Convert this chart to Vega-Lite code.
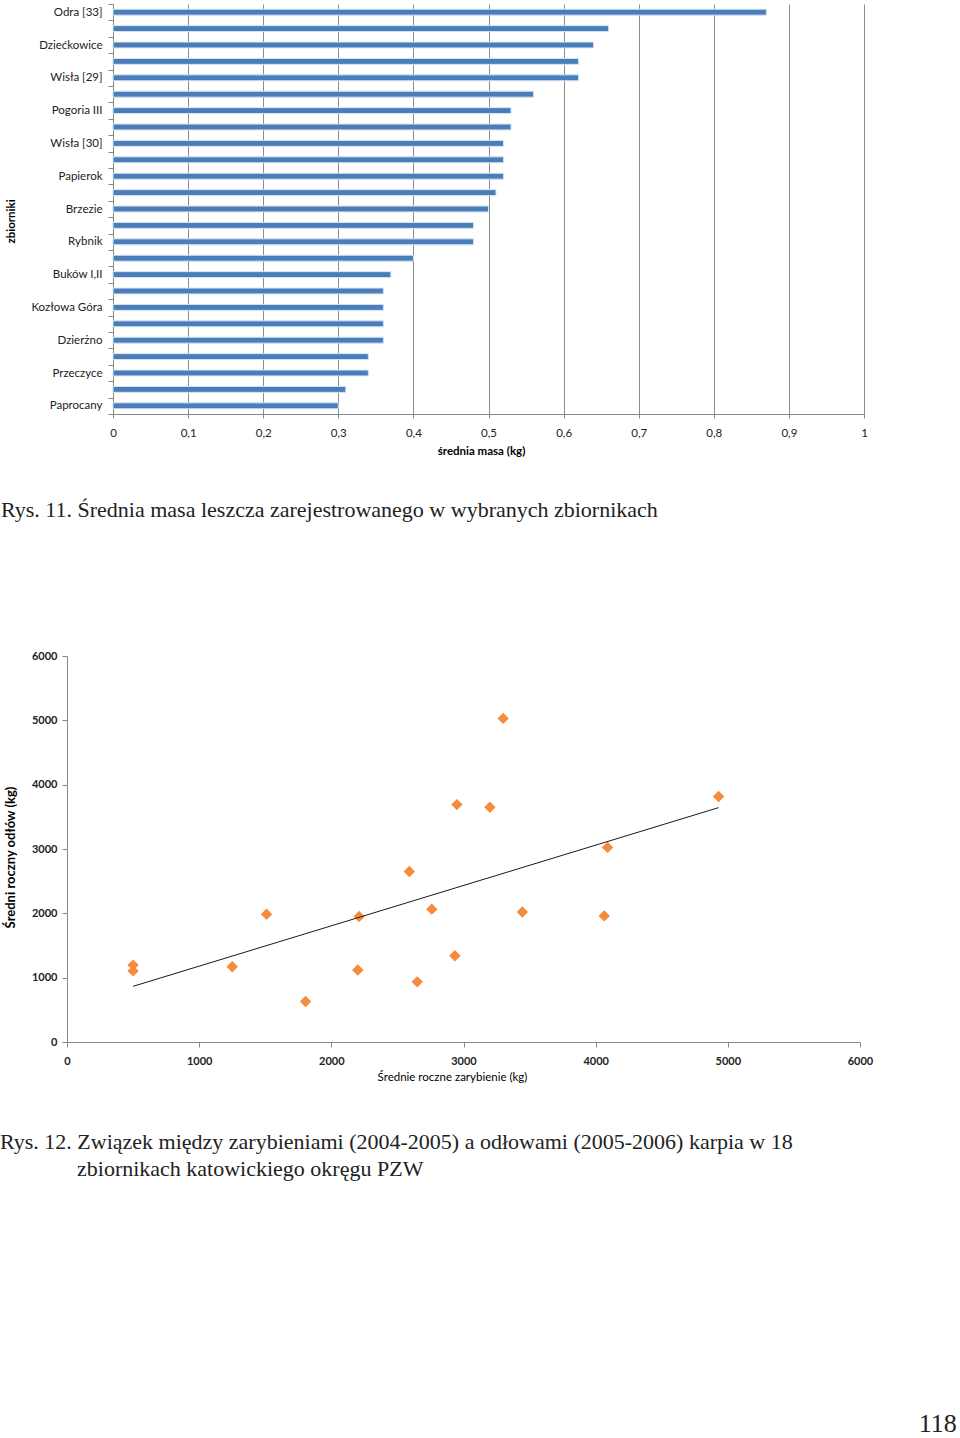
{
  "$schema": "https://vega.github.io/schema/vega-lite/v6.json",
  "background": "white",
  "padding": {"left": 0, "top": -2, "right": 0, "bottom": 0},
  "config": {"font": "Lato", "view": {"stroke": null}},
  "title": {"text": "118", "orient": "bottom", "anchor": "end", "font": "Liberation Serif", "fontSize": 26, "fontWeight": "normal", "color": "#222222", "offset": 231, "dx": 84},
  "spacing": 129,
  "vconcat": [
    {
      "width": 797,
      "height": 410,
      "title": {"text": "Rys. 11. Średnia masa leszcza zarejestrowanego w wybranych zbiornikach", "orient": "bottom", "anchor": "start", "font": "Liberation Serif", "fontSize": 22, "fontWeight": "normal", "color": "#222222", "offset": 43, "dx": -4},
      "data": {"values": [
        {"zbiornik": "Odra [33]", "masa": 0.87},
        {"zbiornik": "nr 2", "masa": 0.66},
        {"zbiornik": "Dziećkowice", "masa": 0.64},
        {"zbiornik": "nr 4", "masa": 0.62},
        {"zbiornik": "Wisła [29]", "masa": 0.62},
        {"zbiornik": "nr 6", "masa": 0.56},
        {"zbiornik": "Pogoria III", "masa": 0.53},
        {"zbiornik": "nr 8", "masa": 0.53},
        {"zbiornik": "Wisła [30]", "masa": 0.52},
        {"zbiornik": "nr 10", "masa": 0.52},
        {"zbiornik": "Papierok", "masa": 0.52},
        {"zbiornik": "nr 12", "masa": 0.51},
        {"zbiornik": "Brzezie", "masa": 0.50},
        {"zbiornik": "nr 14", "masa": 0.48},
        {"zbiornik": "Rybnik", "masa": 0.48},
        {"zbiornik": "nr 16", "masa": 0.40},
        {"zbiornik": "Buków I,II", "masa": 0.37},
        {"zbiornik": "nr 18", "masa": 0.36},
        {"zbiornik": "Kozłowa Góra", "masa": 0.36},
        {"zbiornik": "nr 20", "masa": 0.36},
        {"zbiornik": "Dzierżno", "masa": 0.36},
        {"zbiornik": "nr 22", "masa": 0.34},
        {"zbiornik": "Przeczyce", "masa": 0.34},
        {"zbiornik": "nr 24", "masa": 0.31},
        {"zbiornik": "Paprocany", "masa": 0.30}
      ]},
      "mark": {"type": "bar", "color": "#4A7EBB", "stroke": "#D6E2F0", "strokeWidth": 1, "height": {"band": 0.36}},
      "encoding": {
        "y": {
          "field": "zbiornik", "type": "nominal", "sort": null,
          "scale": {"paddingInner": 0, "paddingOuter": 0},
          "axis": {
            "offset": -46,
            "title": "zbiorniki", "titleFont": "Lato", "titleFontWeight": "bold", "titleFontSize": 11.5, "titleColor": "#000000", "titlePadding": 17, "titleY": 217,
            "minExtent": 80, "maxExtent": 80,
            "labelFontSize": 11.5, "labelColor": "#222222", "labelPadding": 6, "labelLimit": 0,
            "tickSize": 5, "tickBand": "extent", "tickColor": "#888888", "domainColor": "#888888",
            "labelExpr": "round(datum.index * 24) % 2 === 0 ? datum.label : ''",
            "grid": false
          }
        },
        "x": {
          "field": "masa", "type": "quantitative",
          "scale": {"domain": [0, 1], "nice": false, "range": [46, 797]},
          "axis": {
            "title": "średnia masa (kg)", "titleFont": "Lato", "titleFontWeight": "bold", "titleFontSize": 11.5, "titleColor": "#000000", "titlePadding": 7, "titleX": 414,
            "values": [0, 0.1, 0.2, 0.3, 0.4, 0.5, 0.6, 0.7, 0.8, 0.9, 1],
            "format": "~g", "labelExpr": "replace(datum.label, '.', ',')",
            "labelFontSize": 11.5, "labelColor": "#222222", "labelPadding": 9, "labelFlush": false,
            "tickSize": 4, "tickColor": "#888888", "domainColor": "#888888",
            "grid": true, "gridColor": "#8C8C8C", "gridOpacity": 1
          }
        }
      }
    },
    {
      "width": 793,
      "height": 386,
      "title": {"text": ["Rys. 12. Związek między zarybieniami (2004-2005) a odłowami (2005-2006) karpia w 18", "\u200b\u00a0\u00a0\u00a0\u00a0\u00a0\u00a0\u00a0\u00a0\u00a0\u00a0\u00a0\u00a0\u00a0\u00a0zbiornikach katowickiego okręgu PZW"], "orient": "bottom", "anchor": "start", "font": "Liberation Serif", "fontSize": 22, "fontWeight": "normal", "color": "#222222", "offset": 49, "dx": -4, "lineHeight": 27},
      "data": {"values": [
        {"zarybienie": 500, "odlow": 1195},
        {"zarybienie": 500, "odlow": 1105},
        {"zarybienie": 1250, "odlow": 1170},
        {"zarybienie": 1510, "odlow": 1985},
        {"zarybienie": 1805, "odlow": 630},
        {"zarybienie": 2200, "odlow": 1120},
        {"zarybienie": 2210, "odlow": 1950},
        {"zarybienie": 2590, "odlow": 2650},
        {"zarybienie": 2650, "odlow": 935},
        {"zarybienie": 2760, "odlow": 2065},
        {"zarybienie": 2935, "odlow": 1340},
        {"zarybienie": 2950, "odlow": 3690},
        {"zarybienie": 3200, "odlow": 3650},
        {"zarybienie": 3300, "odlow": 5030},
        {"zarybienie": 3445, "odlow": 2020},
        {"zarybienie": 4065, "odlow": 1960},
        {"zarybienie": 4090, "odlow": 3025},
        {"zarybienie": 4930, "odlow": 3815}
      ]},
      "encoding": {
        "x": {
          "field": "zarybienie", "type": "quantitative",
          "scale": {"domain": [0, 6000], "nice": false},
          "axis": {
            "title": "Średnie roczne zarybienie (kg)", "titleFont": "Lato", "titleFontWeight": "normal", "titleFontSize": 11.5, "titleColor": "#000000", "titlePadding": 5, "titleX": 385,
            "values": [0, 1000, 2000, 3000, 4000, 5000, 6000], "format": "d",
            "labelFontSize": 11, "labelFontWeight": "bold", "labelColor": "#222222", "labelPadding": 8, "labelFlush": false,
            "tickSize": 5, "tickColor": "#888888", "domainColor": "#888888", "grid": false
          }
        },
        "y": {
          "field": "odlow", "type": "quantitative",
          "scale": {"domain": [0, 6000], "nice": false},
          "axis": {
            "title": "Średni roczny odłów (kg)", "titleFont": "Lato", "titleFontWeight": "bold", "titleFontSize": 13, "titleColor": "#000000", "titlePadding": 16, "titleY": 201,
            "minExtent": 34, "maxExtent": 34,
            "values": [0, 1000, 2000, 3000, 4000, 5000, 6000], "format": "d",
            "labelFontSize": 11, "labelFontWeight": "bold", "labelColor": "#222222", "labelPadding": 5,
            "tickSize": 5, "tickColor": "#888888", "domainColor": "#888888", "grid": false
          }
        }
      },
      "layer": [
        {"mark": {"type": "point", "shape": "diamond", "filled": true, "size": 130, "color": "#F58B3C", "opacity": 1}},
        {"transform": [{"regression": "odlow", "on": "zarybienie"}], "mark": {"type": "line", "color": "#1A1A1A", "strokeWidth": 1}}
      ]
    }
  ]
}
